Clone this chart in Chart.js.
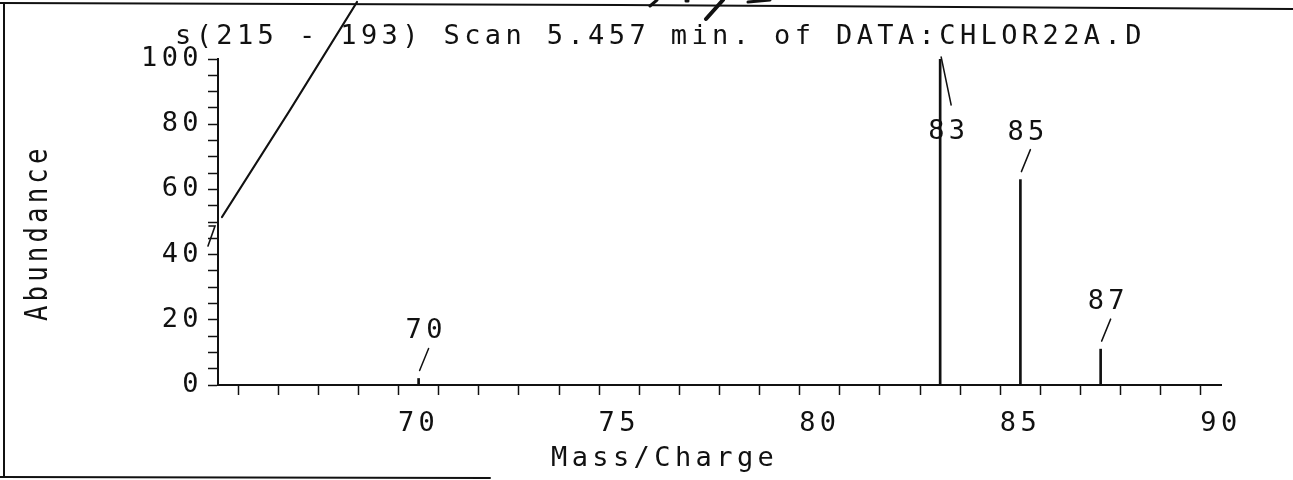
<!DOCTYPE html>
<html>
<head>
<meta charset="utf-8">
<script src="https://cdn.jsdelivr.net/npm/chart.js@4.4.0/dist/chart.umd.min.js"></script>
<style>
  html, body { margin: 0; padding: 0; background: #fff; }
  #spectrum { display: block; }
</style>
</head>
<body>
<canvas id="spectrum" width="1293" height="480"></canvas>
<script>
// peaks
const masses = [70, 83, 85, 87];
const abundances = [2, 100, 63, 11];
const peakLabels = ['70', '83', '85', '87'];
// which ticks carry a number
const massLabels = [70, 75, 80, 85, 90];
const abundanceLabels = [0, 20, 40, 60, 80, 100];

const TITLE = 's(215 - 193) Scan 5.457 min. of DATA:CHLOR22A.D';
const FONT = '"DejaVu Sans Mono", "Liberation Mono", monospace';
const FONT_SIZE = 27;
const INK = '#111';
const SPACING = '4.4px'; // plotter characters sit on a wide pitch

function line(ctx, pts, w) {
  ctx.lineWidth = w;
  ctx.beginPath();
  ctx.moveTo(pts[0][0], pts[0][1]);
  for (let i = 1; i < pts.length; i++) ctx.lineTo(pts[i][0], pts[i][1]);
  ctx.stroke();
}

const plotterText = {
  id: 'plotterText',
  beforeUpdate(chart) { chart.ctx.letterSpacing = SPACING; },
  beforeDraw(chart) { chart.ctx.letterSpacing = SPACING; },
  afterDraw(chart) {
    const ctx = chart.ctx;
    const xs = chart.scales.x, ys = chart.scales.y;
    ctx.save();
    ctx.fillStyle = INK;
    ctx.strokeStyle = INK;
    ctx.lineCap = 'round';
    ctx.font = FONT_SIZE + 'px ' + FONT;
    ctx.textAlign = 'left';
    ctx.textBaseline = 'alphabetic';

    ctx.fillText(TITLE, 175, 44);
    ctx.fillText('Mass/Charge', 551, 466);

    ctx.save();
    ctx.translate(47, 321);
    ctx.rotate(-Math.PI / 2);
    ctx.scale(0.95, 1.2);
    ctx.fillText('Abundance', 0, 0);
    ctx.restore();

    // peak labels with their little leader strokes
    masses.forEach((m, i) => {
      const px = xs.getPixelForValue(m);
      const py = ys.getPixelForValue(abundances[i]);
      if (abundances[i] > 90) {
        line(ctx, [[px + 1, py - 2], [px + 11, py + 46]], 1.5);
        ctx.fillText(peakLabels[i], px - 12, py + 80);
      } else {
        line(ctx, [[px + 1, py - 8], [px + 10, py - 30]], 1.5);
        ctx.fillText(peakLabels[i], px - 13, py - 40);
      }
    });

    // page edges of the scanned printout
    line(ctx, [[0, 3], [620, 5], [1293, 9]], 2);
    line(ctx, [[4, 3], [4, 477]], 2);
    line(ctx, [[0, 477], [490, 478]], 2);

    // pen marks on the printout
    line(ctx, [[357, 2], [290, 110], [222, 217]], 2.2);
    line(ctx, [[209, 226], [215, 226], [208, 246]], 1.6);
    line(ctx, [[723, 0], [706, 19]], 4);
    line(ctx, [[650, 6], [657, 0]], 3);
    line(ctx, [[686, 1], [688, 1]], 3);
    line(ctx, [[748, 2], [770, 0]], 3);
    ctx.restore();
  }
};

new Chart(document.getElementById('spectrum'), {
  type: 'bar',
  data: {
    datasets: [{
      data: masses.map((m, i) => ({ x: m, y: abundances[i] })),
      backgroundColor: INK,
      borderWidth: 0,
      barThickness: 2
    }]
  },
  options: {
    responsive: false,
    animation: false,
    devicePixelRatio: 1,
    layout: { padding: { left: 0, right: 72, top: 59, bottom: 0 } },
    plugins: {
      legend: { display: false },
      tooltip: { enabled: false }
    },
    scales: {
      x: {
        type: 'linear',
        min: 65,
        max: 90,
        offset: false,
        grid: { drawOnChartArea: false, drawTicks: true, tickLength: 10, tickColor: INK, tickWidth: 1.5 },
        border: { color: INK, width: 2 },
        ticks: {
          stepSize: 1,
          autoSkip: false,
          maxRotation: 0,
          padding: 13,
          color: INK,
          font: { family: FONT, size: FONT_SIZE },
          callback: v => massLabels.includes(v) ? String(v) : ''
        },
        afterFit: s => { s.height = 95; }
      },
      y: {
        min: 0,
        max: 100,
        grid: { drawOnChartArea: false, drawTicks: true, tickLength: 10, tickColor: INK, tickWidth: 1.5 },
        border: { color: INK, width: 2 },
        ticks: {
          stepSize: 5,
          autoSkip: false,
          padding: 5,
          color: INK,
          font: { family: FONT, size: FONT_SIZE },
          callback: v => abundanceLabels.includes(v) ? String(v) : ''
        },
        afterFit: s => { s.width = 218; }
      }
    }
  },
  plugins: [plotterText]
});
</script>
</body>
</html>
